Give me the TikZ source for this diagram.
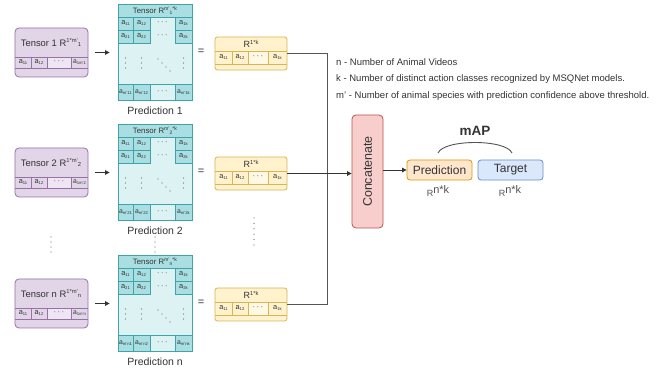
\documentclass[tikz,border=0pt]{standalone}
\usepackage{fontspec}
\setmainfont{Liberation Sans}
\usetikzlibrary{arrows.meta}

\definecolor{purF}{HTML}{E1D5E7}
\definecolor{purD}{HTML}{9673A6}
\definecolor{purL}{HTML}{EEE6F2}
\definecolor{tealF}{HTML}{A9DFE2}
\definecolor{tealD}{HTML}{3FA3A8}
\definecolor{tealL}{HTML}{DDF2F3}
\definecolor{yelF}{HTML}{FFF2CC}
\definecolor{yelD}{HTML}{D6B656}
\definecolor{yelL}{HTML}{FFF8E4}
\definecolor{redF}{HTML}{F8CECC}
\definecolor{redD}{HTML}{B85450}
\definecolor{orF}{HTML}{FFE6CC}
\definecolor{orD}{HTML}{D79B00}
\definecolor{bluF}{HTML}{DAE8FC}
\definecolor{bluD}{HTML}{6C8EBF}
\definecolor{ink}{HTML}{333333}
\definecolor{wire}{HTML}{555555}

\newcommand\fs[1]{\fontsize{#1}{#1}\selectfont}
% matrix entry a_{ij}
\newcommand\cella[1]{a\raisebox{-1pt}{\fs{4.2}#1}}
\newcommand\hdots{·\hspace{1.6pt}·\hspace{1.6pt}·}

\tikzset{
  txt/.style={inner sep=0, text=ink},
  arr/.style={-{Triangle[length=4.5pt,width=4.5pt]}, draw=ink, line width=0.8pt},
  wireline/.style={draw=wire, line width=0.9pt},
  dotmark/.style={fill=ink!70},
  celltxt/.style={txt, font=\fs{7.4}},
  gaptxt/.style={txt, font=\fs{7}\bfseries, text=ink!55},
}

% one input tensor -> prediction matrix -> averaged vector row
% #1 name suffix, #2 row centre y, #3 index
\newcommand\tensorrow[3]{%
\begin{scope}[shift={(0,#2)}]
  % input tensor R^{1*m'}
  \node[draw=purD, fill=purF, line width=0.8pt, rounded corners=4pt,
        minimum width=73pt, minimum height=49pt, inner sep=0] (in#1) at (51.5,0.5) {};
  \fill[purL] (47,5) rectangle (71,16);
  \draw[purD, line width=0.6pt] (15,5) -- (88,5) (15,16) -- (88,16)
        (31,5) -- (31,16) (47,5) -- (47,16) (71,5) -- (71,16);
  \node[txt, font=\fs{9.4}] (inh#1) at (51,-9)
        {Tensor #3 R\raisebox{3.4pt}{\fs{5.8}1*m'}\raisebox{-0.6pt}{\fs{5.8}#3}};
  \node[celltxt] (inc#1a) at (23,10.5) {\cella{11}};
  \node[celltxt] (inc#1b) at (39,10.5) {\cella{12}};
  \node[gaptxt] (inc#1c) at (59,10.5) {\hdots};
  \node[celltxt, font=\fs{6.8}] (inc#1d) at (79.5,10.5) {\cella{1m'#3}};

  % prediction matrix R^{m'*k}
  \fill[tealL] (118,-48) rectangle (192,48);
  \fill[tealF] (118,-48) rectangle (192,-35);
  \foreach \xa/\xb in {118/133,133/150,175/192}{
    \draw[tealD, fill=tealF, line width=0.5pt] (\xa,-35) rectangle (\xb,-22);
    \draw[tealD, fill=tealF, line width=0.5pt] (\xa,-22) rectangle (\xb,-9);
    \draw[tealD, fill=tealF, line width=0.5pt] (\xa,32) rectangle (\xb,48);
  }
  \draw[tealD, line width=0.5pt] (118,-35) -- (192,-35) (118,32) -- (192,32);
  \node[draw=tealD, line width=0.8pt, minimum width=74pt, minimum height=96pt,
        inner sep=0] (pr#1) at (155,0) {};
  \node[txt, font=\fs{7.8}] (prh#1) at (155,-41.3)
        {Tensor R\raisebox{3pt}{\fs{5.2}m'}\raisebox{-0.3pt}{\fs{5}#3}\raisebox{3pt}{\fs{5.2}*k}};
  \node[celltxt] at (125.5,-28.5) {\cella{11}};
  \node[celltxt] at (141.5,-28.5) {\cella{12}};
  \node[gaptxt] at (162.5,-28.5) {\hdots};
  \node[celltxt] at (183.5,-28.5) {\cella{1k}};
  \node[celltxt] at (125.5,-15.5) {\cella{21}};
  \node[celltxt] at (141.5,-15.5) {\cella{22}};
  \node[gaptxt] at (162.5,-15.5) {\hdots};
  \node[celltxt] at (183.5,-15.5) {\cella{2k}};
  \node[celltxt, font=\fs{6.8}] at (125.5,40) {\cella{m'#31}};
  \node[celltxt, font=\fs{6.8}] at (141.5,40) {\cella{m'#32}};
  \node[gaptxt] at (162.5,40) {\hdots};
  \node[celltxt, font=\fs{6.8}] at (183.5,40) {\cella{m'#3k}};
  \foreach \yy in {6,11,16}{
    \fill[dotmark] (125.5,\yy) circle (0.65) (141.5,\yy) circle (0.65) (183.5,\yy) circle (0.65);
  }
  \foreach \xx/\yy in {158/7,162/11,166/15,170/19}{
    \fill[dotmark] (\xx,\yy) circle (0.65);
  }
  \node[txt, font=\fs{10.5}] (cap#1) at (155,59) {Prediction #3};

  % row vector R^{1*k}
  \node[draw=yelD, fill=yelF, line width=0.8pt, rounded corners=2.5pt,
        minimum width=72pt, minimum height=33pt, inner sep=0] (ye#1) at (251,1.5) {};
  \fill[yelL] (248,-1) rectangle (268,12);
  \draw[yelD, line width=0.6pt] (215,-1) -- (287,-1) (215,12) -- (287,12)
        (232,-1) -- (232,12) (248,-1) -- (248,12) (268,-1) -- (268,12);
  \node[txt, font=\fs{9}] (yeh#1) at (251,-8)
        {R\raisebox{3.2pt}{\fs{5.8}1*k}};
  \node[celltxt] at (223.5,5.5) {\cella{11}};
  \node[celltxt] at (240,5.5) {\cella{12}};
  \node[gaptxt] at (258,5.5) {\hdots};
  \node[celltxt] at (277.5,5.5) {\cella{1k}};

  % arrow and equals sign between the blocks
  \draw[arr, shorten <=7pt, shorten >=8pt] (in#1.east) -- (in#1.east -| pr#1.west);
  \node[txt, font=\fs{11}] (eq#1) at (201,0) {=};
\end{scope}}

\begin{document}
\begin{tikzpicture}[x=1pt, y=-1pt]
\useasboundingbox (0,0) rectangle (662,374);
\fill[white] (0,0) rectangle (662,374);

\tensorrow{1}{52}{1}
\tensorrow{2}{172}{2}
\tensorrow{3}{303}{n}

% ellipsis between the second and the last row
\foreach \yy in {237,242,247,252}{
  \fill[dotmark] (51,\yy) circle (0.65) (155,\yy) circle (0.65);
}
\foreach \yy in {218,223.4,228.8,234.2,239.6,245}{
  \fill[dotmark] (254,\yy) circle (0.65);
}

% concatenation of the row vectors
\node[draw=redD, fill=redF, line width=0.8pt, rounded corners=4pt,
      minimum width=31pt, minimum height=113pt, inner sep=0] (cc) at (367.5,171.5) {};
\node[txt, font=\fs{12.5}, rotate=90] (cctext) at (cc.center) {Concatenate};

\coordinate (bus) at (327,0);
\draw[wireline] (ye1.east) -- (ye1.east -| bus) -- (ye3.east -| bus) -- (ye3.east);
\draw[wireline, arr] (ye2.east) -- (ye2.east -| cc.west);

% evaluation
\node[draw=orD, fill=orF, line width=0.8pt, rounded corners=3pt,
      minimum width=65pt, minimum height=20pt, inner sep=0, font=\fs{12}, text=ink]
      (pd) at (439.5,170) {Prediction};
\node[draw=bluD, fill=bluF, line width=0.8pt, rounded corners=3pt,
      minimum width=65pt, minimum height=20pt, inner sep=0, font=\fs{12}, text=ink]
      (tg) at (510.5,170) {Target};
\draw[arr] (cc.east |- pd.west) -- (pd.west);

\node[txt, text=ink!85] (rn1) at (438,191) {{\fs{9}R}\raisebox{3pt}{\fs{11}n*k}};
\node[txt, text=ink!85] (rn2) at (510,191) {{\fs{9}R}\raisebox{3pt}{\fs{11}n*k}};

\node[txt, font=\fs{13.5}\bfseries] (map) at (475,131) {mAP};
\coordinate (al) at (438,153);
\coordinate (ar) at (512,153);
\draw[wireline] (al) .. controls (444,139) and (506,139) .. (ar);

% legend
\node[txt, anchor=west, font=\fs{9.5}] (lg1) at (336,62) {n - Number of Animal Videos};
\node[txt, anchor=west, font=\fs{9.5}] (lg2) at (336,79) {k - Number of distinct action classes recognized by MSQNet models.};
\node[txt, anchor=west, font=\fs{9.5}] (lg3) at (336,96) {m' - Number of animal species with prediction confidence above threshold.};
\end{tikzpicture}
\end{document}
